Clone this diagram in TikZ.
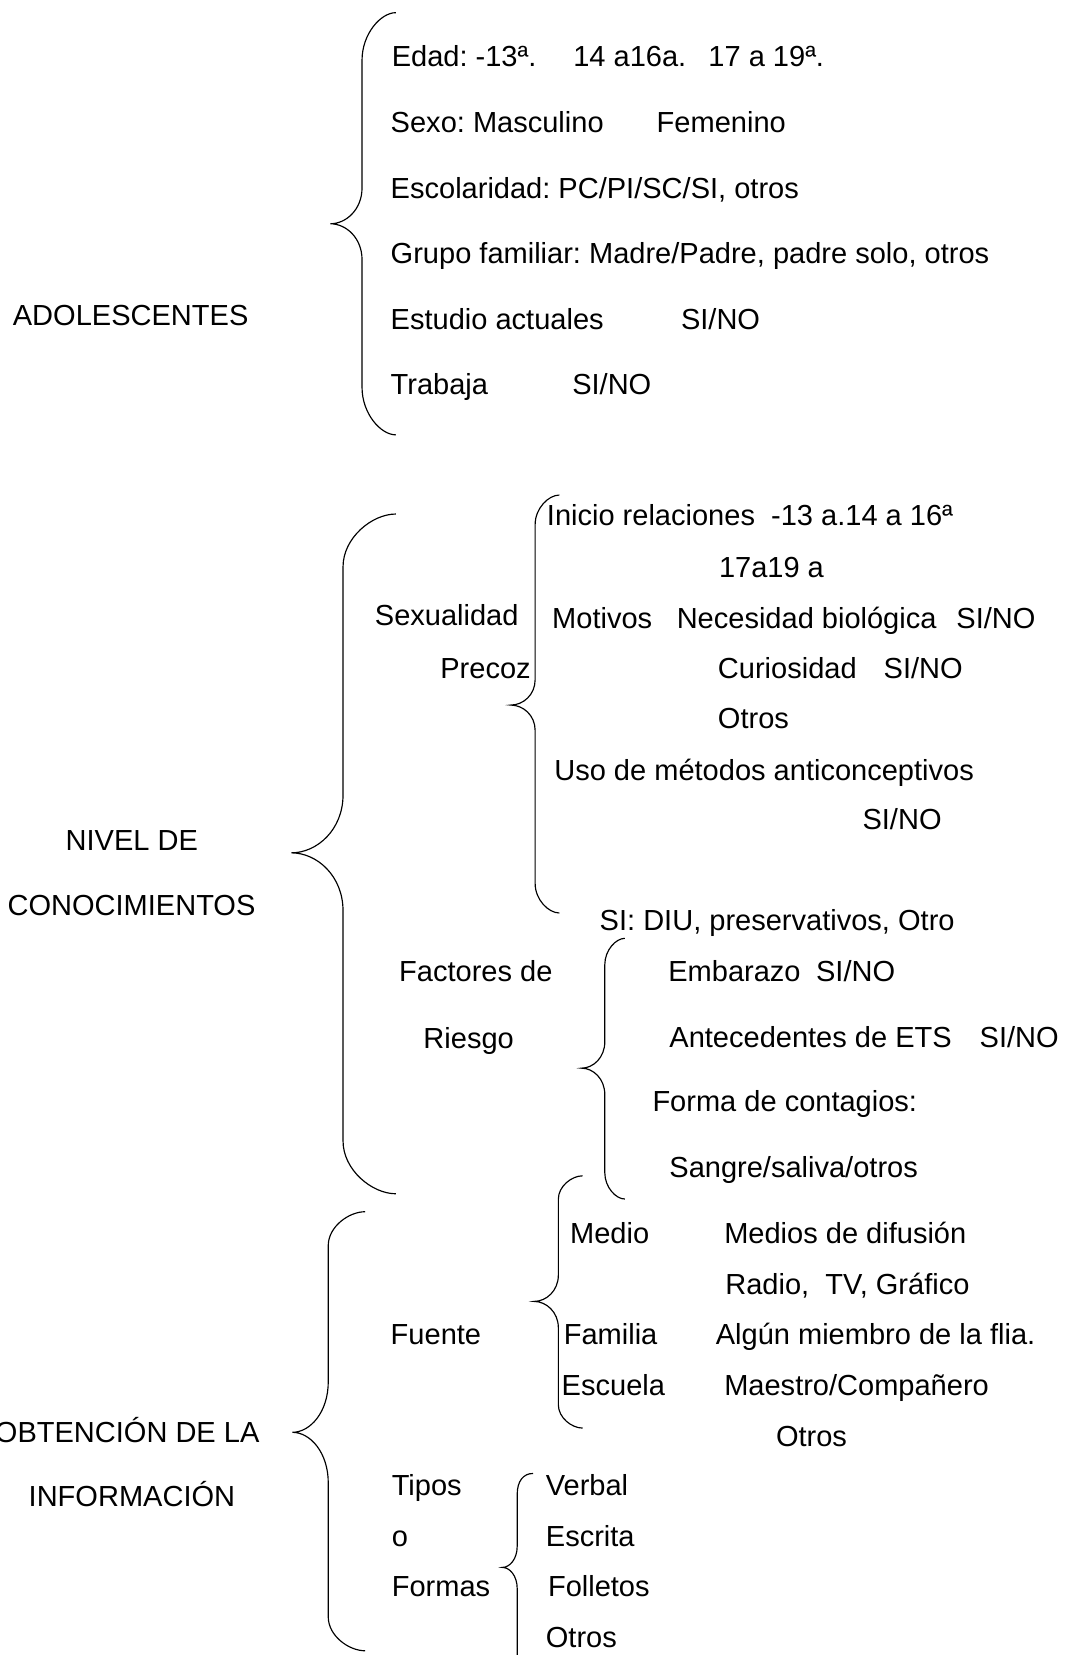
\documentclass[tikz,border=0pt]{standalone}
\usepackage{fontspec}
\setmainfont{Liberation Sans}
\begin{document}
\frenchspacing
\begin{tikzpicture}[x=1pt,y=-1pt,
  txt/.style={anchor=base west, inner sep=0pt, font=\fontsize{27.5}{33}\selectfont},
  brc/.style={line width=1.1pt, black}]
\useasboundingbox (0,0) rectangle (1012,1568);
% #1 xe, #2 xl, #3 xtip, #4 ytop, #5 ytip, #6 ybot, #7 r end, #8 r tip
\newcommand\Brc[8]{%
\draw[brc] (#1,#4) .. controls ({#2+0.55*(#1-#2)},#4) and (#2,{#4+0.45*#7}) .. (#2,{#4+#7})
 -- (#2,{#5-#8}) .. controls (#2,{#5-0.4*#8}) and ({#3+0.5*(#2-#3)},#5) .. (#3,#5)
 .. controls ({#3+0.5*(#2-#3)},#5) and (#2,{#5+0.4*#8}) .. (#2,{#5+#8})
 -- (#2,{#6-#7}) .. controls (#2,{#6-0.45*#7}) and ({#2+0.55*(#1-#2)},#6) .. (#1,#6);}
\def\b{10}
% ---------- ADOLESCENTES ----------
\node[txt] (ado) at (12,{298+\b}) {ADOLESCENTES};
\Brc{375}{343}{313}{12}{212}{412}{45}{34}
\node[txt] (edad) at (371,{53+\b}) {Edad: -13ª.};
\node[txt] (edad2) at (543,{53+\b}) {14 a16a.};
\node[txt] (edad3) at (671,{53+\b}) {17 a 19ª.};
\node[txt] (sexo) at (370,{116+\b}) {Sexo: Masculino};
\node[txt] (fem) at (622,{116+\b}) {Femenino};
\node[txt] (esc) at (370,{178+\b}) {Escolaridad: PC/PI/SC/SI, otros};
\node[txt] (grupo) at (370,{240+\b}) {Grupo familiar: Madre/Padre, padre solo, otros};
\node[txt] (est) at (370,{302+\b}) {Estudio actuales};
\node[txt] (estsn) at (645,{302+\b}) {SI/NO};
\node[txt] (trab) at (370,{364+\b}) {Trabaja};
\node[txt] (trabsn) at (542,{364+\b}) {SI/NO};
% ---------- NIVEL DE CONOCIMIENTOS ----------
\node[txt] (niv1) at (62,{796+\b}) {NIVEL DE};
\node[txt] (niv2) at (7,{857+\b}) {CONOCIMIENTOS};
\Brc{375}{325}{276}{487}{808}{1131}{50}{55}
\node[txt] (sex1) at (355,{583+\b}) {Sexualidad};
\node[txt] (sex2) at (417,{633+\b}) {Precoz};
\Brc{530}{507}{484}{469}{668}{865}{28}{24}
\node[txt] (ini) at (518,{488+\b}) {Inicio relaciones\ \ -13 a.14 a 16ª};
\node[txt] (ini2) at (681,{537+\b}) {17a19 a};
\node[txt] (mot) at (523,{585+\b}) {Motivos};
\node[txt] (nec) at (641,{585+\b}) {Necesidad biológica};
\node[txt] (necsn) at (906,{585+\b}) {SI/NO};
\node[txt] (cur) at (680,{633+\b}) {Curiosidad};
\node[txt] (cursn) at (837,{633+\b}) {SI/NO};
\node[txt] (otr1) at (680,{680+\b}) {Otros};
\node[txt] (uso) at (525,{729+\b}) {Uso de métodos anticonceptivos};
\node[txt] (usosn) at (817,{776+\b}) {SI/NO};
\node[txt] (diu) at (568,{872+\b}) {SI: DIU, preservativos, Otro};
\node[txt] (fac1) at (378,{920+\b}) {Factores de};
\node[txt] (fac2) at (401,{983+\b}) {Riesgo};
\Brc{592}{573}{551}{889}{1012}{1136}{25}{25}
\node[txt] (emb) at (633,{920+\b}) {Embarazo};
\node[txt] (embsn) at (773,{920+\b}) {SI/NO};
\node[txt] (ant) at (634,{982+\b}) {Antecedentes de ETS};
\node[txt] (antsn) at (928,{982+\b}) {SI/NO};
\node[txt] (for) at (618,{1043+\b}) {Forma de contagios:};
\node[txt] (san) at (634,{1106+\b}) {Sangre/saliva/otros};
% ---------- OBTENCION DE LA INFORMACION ----------
\node[txt] (obt1) at (-5,{1357+\b}) {OBTENCIÓN DE LA};
\node[txt] (obt2) at (27,{1417+\b}) {INFORMACIÓN};
\Brc{346}{311}{277}{1148}{1357}{1564}{32}{48}
\node[txt] (fue) at (370,{1264+\b}) {Fuente};
\Brc{552}{529}{506}{1114}{1233}{1353}{22}{25}
\node[txt] (med) at (540,{1168+\b}) {Medio};
\node[txt] (med2) at (686,{1168+\b}) {Medios de difusión};
\node[txt] (rad) at (687,{1216+\b}) {Radio,\ \ TV, Gráfico};
\node[txt] (fam) at (534,{1264+\b}) {Familia};
\node[txt] (fam2) at (678,{1264+\b}) {Algún miembro de la flia.};
\node[txt] (escu) at (532,{1312+\b}) {Escuela};
\node[txt] (escu2) at (686,{1312+\b}) {Maestro/Compañero};
\node[txt] (otr2) at (735,{1360+\b}) {Otros};
\node[txt] (tip1) at (371,{1407+\b}) {Tipos};
\node[txt] (tip2) at (371,{1455+\b}) {o};
\node[txt] (tip3) at (371,{1503+\b}) {Formas};
\draw[brc] (505,1396) .. controls (496,1396) and (490,1403) .. (490,1416)
 -- (490,1465) .. controls (490,1477) and (483,1485) .. (476,1485)
 .. controls (483,1485) and (490,1493) .. (490,1505) -- (490,1568);
\node[txt] (ver) at (517,{1407+\b}) {Verbal};
\node[txt] (escr) at (517,{1455+\b}) {Escrita};
\node[txt] (fol) at (519,{1503+\b}) {Folletos};
\node[txt] (otr3) at (517,{1551+\b}) {Otros};
\end{tikzpicture}
\end{document}
